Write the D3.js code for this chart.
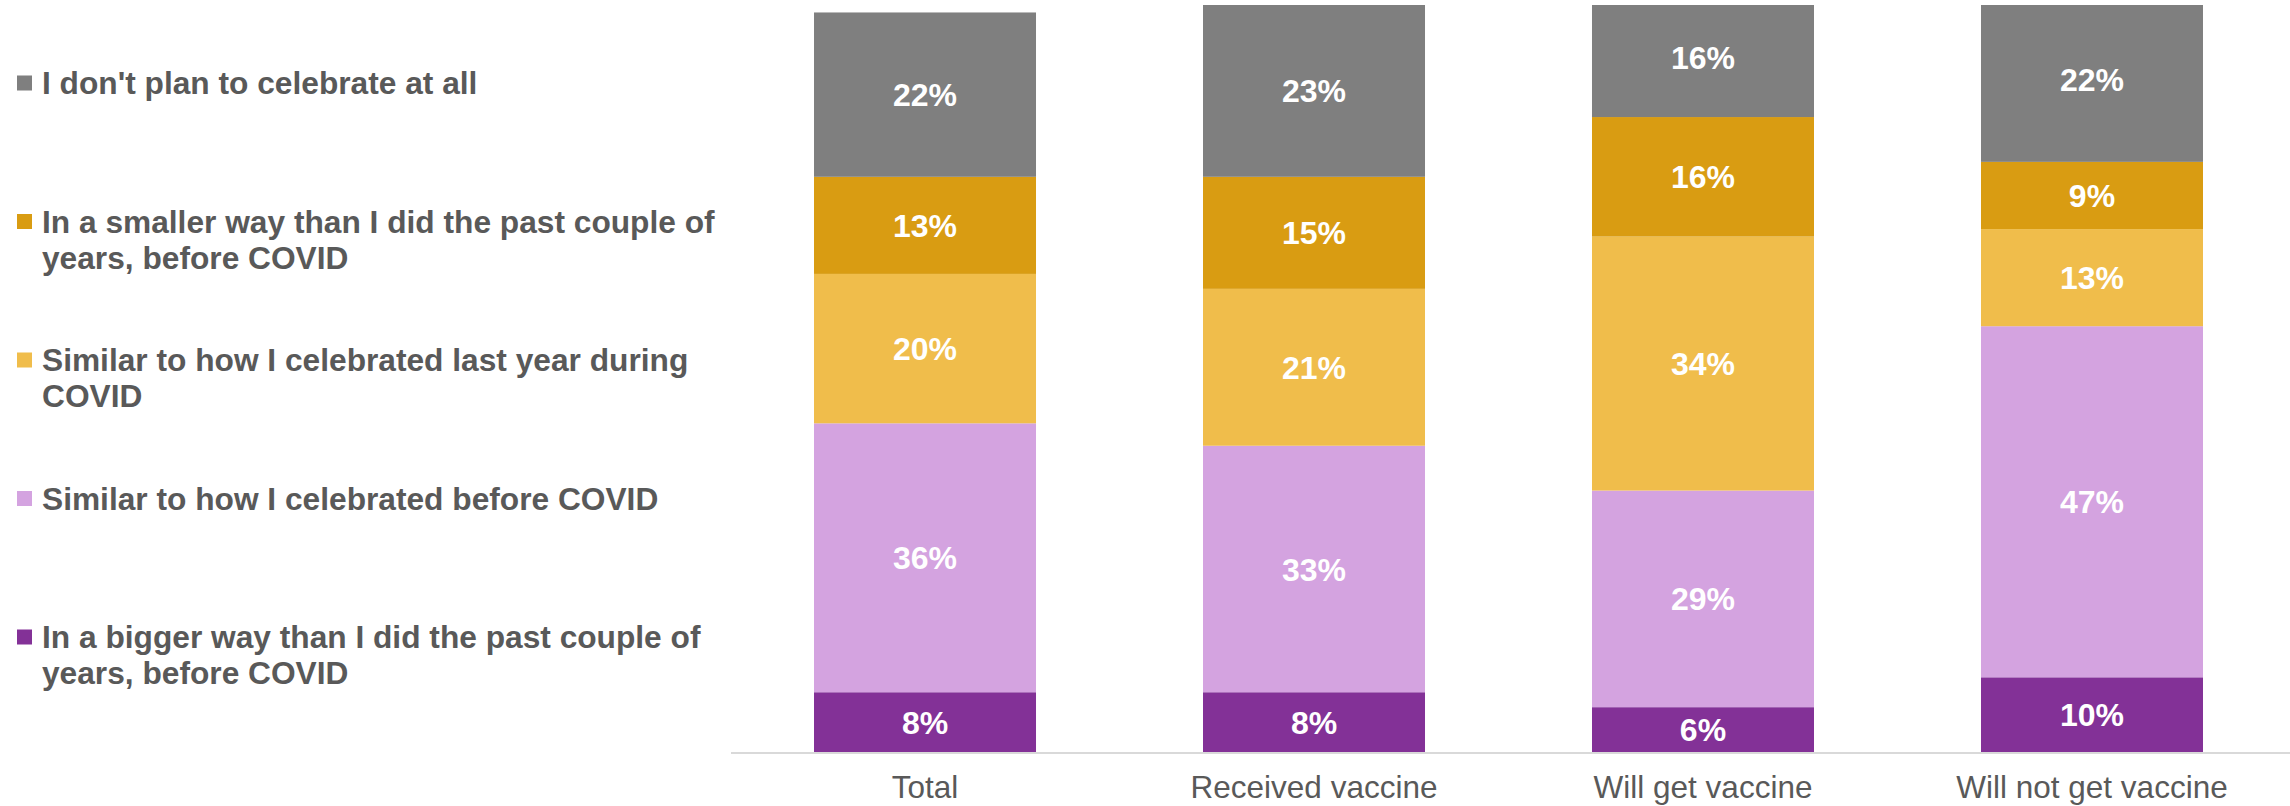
<!DOCTYPE html>
<html>
<head>
<meta charset="utf-8">
<script src="https://cdn.jsdelivr.net/npm/d3@7"></script>
<style>
  html, body { margin: 0; padding: 0; background: #ffffff; }
  svg { display: block; font-family: "Liberation Sans", Arial, sans-serif; }
</style>
</head>
<body>
<svg id="chart" width="2290" height="806"></svg>
<script>
// ---- Data ----
const categories = ["Total", "Received vaccine", "Will get vaccine", "Will not get vaccine"];
const seriesKeys = ["bigger", "similarBefore", "similarLast", "smaller", "noCelebrate"];
const bigger        = [8, 8, 6, 10];
const similarBefore = [36, 33, 29, 47];
const similarLast   = [20, 21, 34, 13];
const smaller       = [13, 15, 16, 9];
const noCelebrate   = [22, 23, 16, 22];
const legendLines = {
  noCelebrate:   ["I don't plan to celebrate at all"],
  smaller:       ["In a smaller way than I did the past couple of", "years, before COVID"],
  similarLast:   ["Similar to how I celebrated last year during", "COVID"],
  similarBefore: ["Similar to how I celebrated before COVID"],
  bigger:        ["In a bigger way than I did the past couple of", "years, before COVID"]
};
const colors = {
  bigger: "#833197",
  similarBefore: "#d4a3e0",
  similarLast: "#f0bd4b",
  smaller: "#d99c12",
  noCelebrate: "#7f7f7f"
};

const valuesByKey = { bigger, similarBefore, similarLast, smaller, noCelebrate };
const table = categories.map((c, i) => {
  const row = { category: c };
  seriesKeys.forEach(k => row[k] = valuesByKey[k][i]);
  return row;
});

// ---- Layout ----
const svg = d3.select("#chart");
const W = 2290;
const x = d3.scaleBand()
  .domain(categories)
  .range([731, 2286])
  .paddingInner(0.4293)
  .paddingOuter(0.2134);
const y = d3.scaleLinear().domain([0, 100]).range([752, 5]).clamp(true);
const yLabel = y.copy().clamp(false);

const stacked = d3.stack().keys(seriesKeys)(table);

const g = svg.append("g");
const layers = g.selectAll("g.layer").data(stacked).join("g")
  .attr("class", "layer")
  .attr("fill", d => colors[d.key]);

layers.selectAll("rect").data(d => d).join("rect")
  .attr("x", d => x(d.data.category))
  .attr("width", x.bandwidth())
  .attr("y", d => y(d[1]))
  .attr("height", d => y(d[0]) - y(d[1]));

layers.selectAll("text").data(d => d.map(v => ({ v, key: d.key }))).join("text")
  .attr("x", d => x(d.v.data.category) + x.bandwidth() / 2)
  .attr("y", d => yLabel((d.v[0] + d.v[1]) / 2))
  .attr("dy", "0.36em")
  .attr("text-anchor", "middle")
  .attr("fill", "#ffffff")
  .attr("font-weight", "bold")
  .attr("font-size", "32px")
  .text(d => d.v.data[d.key] + "%");

// ---- Axis ----
const axis = svg.append("g")
  .attr("transform", `translate(0,${y(0)})`)
  .call(d3.axisBottom(x).tickSize(0).tickPadding(24));
axis.select(".domain").remove();
axis.selectAll("text")
  .attr("font-size", "31.5px")
  .attr("font-family", "'Liberation Sans', Arial, sans-serif")
  .attr("fill", "#595959");
svg.append("line")
  .attr("x1", x.range()[0]).attr("x2", W)
  .attr("y1", y(0) + 1).attr("y2", y(0) + 1)
  .attr("stroke", "#d9d9d9").attr("stroke-width", 2);

// ---- Legend ----
const legendKeys = seriesKeys.slice().reverse();
const legendY = d3.scalePoint().domain(legendKeys).range([94, 648]);
const lg = svg.append("g");
legendKeys.forEach(k => {
  const by = legendY(k);
  lg.append("rect")
    .attr("x", 17).attr("y", by - 18.5)
    .attr("width", 15).attr("height", 15)
    .attr("fill", colors[k]);
  const t = lg.append("text")
    .attr("x", 42).attr("y", by)
    .attr("fill", "#595959")
    .attr("font-weight", "bold")
    .attr("font-size", "31.7px");
  legendLines[k].forEach((line, i) => {
    t.append("tspan").attr("x", 42).attr("dy", i === 0 ? 0 : 36).text(line);
  });
});
</script>
</body>
</html>
